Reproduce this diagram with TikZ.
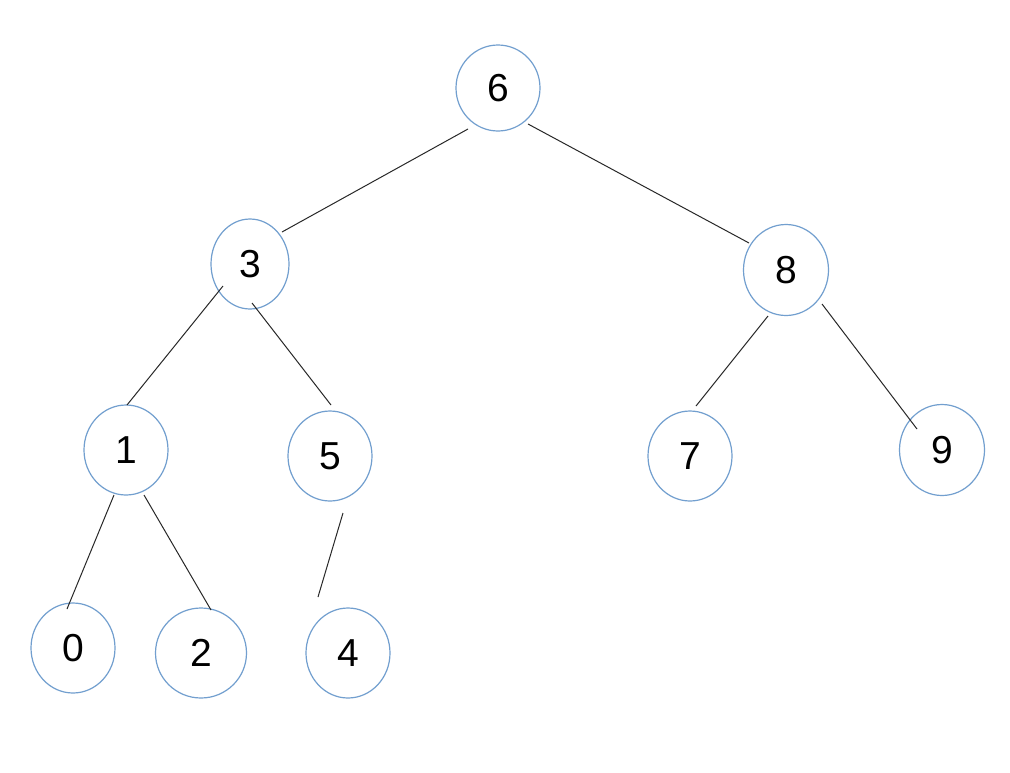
\documentclass[tikz,border=0pt]{standalone}
\usepackage{fontspec}
\setmainfont{Liberation Sans}
\usetikzlibrary{shapes.geometric,calc}
\definecolor{nodeblue}{RGB}{114,159,207}
\definecolor{edgegray}{RGB}{40,40,40}
\tikzset{
  tnode/.style={ellipse, draw=nodeblue, line width=1.2pt, inner sep=0pt,
    minimum width=84pt, minimum height=90pt,
    font=\fontsize{39}{39}\selectfont},
  edge/.style={draw=edgegray, line width=1pt}
}
\begin{document}
\begin{tikzpicture}[x=1pt,y=-1pt]
\useasboundingbox[fill=white] (0,0) rectangle (1010,772);
\node[tnode, minimum height=86pt] (n6) at (498,88) {6};
\node[tnode, minimum width=78pt] (n3) at (250,264) {3};
\node[tnode, minimum width=85pt, minimum height=91pt] (n8) at (786,270) {8};
\node[tnode] (n1) at (126,450) {1};
\node[tnode] (n5) at (330,456) {5};
\node[tnode] (n7) at (690,456) {7};
\node[tnode, minimum width=85pt, minimum height=91pt] (n9) at (942,450) {9};
\node[tnode] (n0) at (73,648) {0};
\node[tnode, minimum width=91pt] (n2) at (201,653) {2};
\node[tnode] (n4) at (348,653) {4};
\draw[edge] ($(n6)+(-30,41)$) -- ($(n3)+(32,-32)$);
\draw[edge] ($(n6)+(30,36)$) -- ($(n8)+(-37,-27)$);
\draw[edge] ($(n3)+(-27,22)$) -- ($(n1)+(1,-45)$);
\draw[edge] ($(n3)+(2,39)$) -- ($(n5)+(1,-51)$);
\draw[edge] ($(n8)+(-18,46)$) -- ($(n7)+(6,-50)$);
\draw[edge] ($(n8)+(36,34)$) -- ($(n9)+(-25,-21)$);
\draw[edge] ($(n1)+(-12,45)$) -- ($(n0)+(-6,-39)$);
\draw[edge] ($(n1)+(18,45)$) -- ($(n2)+(10,-43)$);
\draw[edge] ($(n5)+(13,57)$) -- ($(n4)+(-30,-56)$);
\end{tikzpicture}
\end{document}
